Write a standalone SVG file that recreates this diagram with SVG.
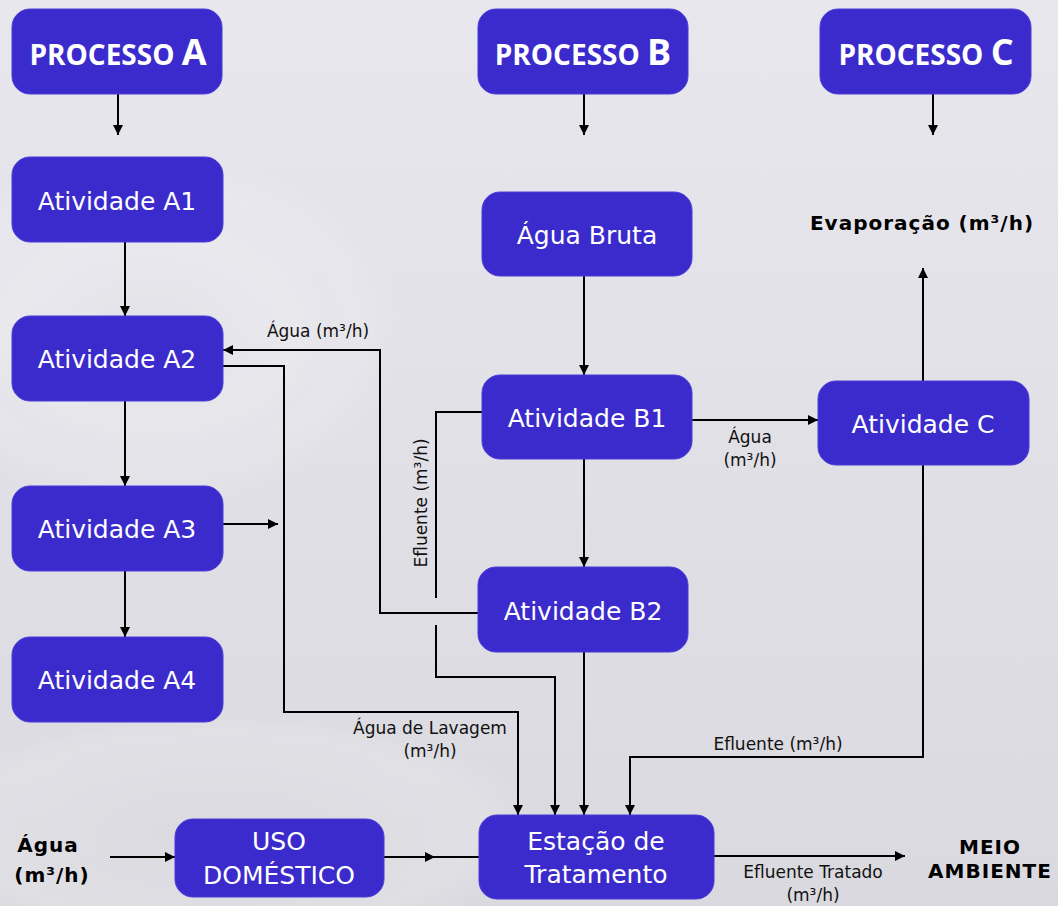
<svg xmlns="http://www.w3.org/2000/svg" width="1058" height="906" viewBox="0 0 1058 906">
<defs>
<linearGradient id="bg" x1="0" y1="0" x2="0" y2="1">
<stop offset="0" stop-color="#E8E7EE"/>
<stop offset="1" stop-color="#DAD9DF"/>
</linearGradient>
<radialGradient id="ripple" cx="0.5" cy="0.5" r="0.5">
<stop offset="0" stop-color="#FFFFFF" stop-opacity="0"/>
<stop offset="0.8" stop-color="#FFFFFF" stop-opacity="0.25"/>
<stop offset="1" stop-color="#FFFFFF" stop-opacity="0"/>
</radialGradient>
<marker id="arr" viewBox="0 0 10 10" refX="10" refY="5" markerWidth="10" markerHeight="10" markerUnits="userSpaceOnUse" orient="auto">
<path d="M0,0 L10,5 L0,10 Z" fill="#000"/>
</marker>
<marker id="mid" viewBox="0 0 10 10" refX="5" refY="5" markerWidth="10" markerHeight="10" markerUnits="userSpaceOnUse" orient="auto">
<path d="M0,0 L10,5 L0,10 Z" fill="#000"/>
</marker>
</defs>
<style>
.box{fill:#3B2BCC;stroke:#4A3BD6;stroke-width:1}
.t{font-family:"DejaVu Sans",Verdana,sans-serif;font-size:25px;fill:#FFFFFF;text-anchor:middle}
.h{font-family:"Open Sans","DejaVu Sans",sans-serif;font-weight:bold;font-size:28px;fill:#FFFFFF;text-anchor:middle}
.hb{font-size:36px}
.c{fill:none;stroke:#000;stroke-width:2}
.l{font-family:"DejaVu Sans",Verdana,sans-serif;font-size:17px;fill:#111;text-anchor:middle}
.b{font-family:"DejaVu Sans",Verdana,sans-serif;font-weight:bold;font-size:20px;letter-spacing:1px;fill:#000;text-anchor:middle}
</style>
<rect x="0" y="0" width="1058" height="906" fill="url(#bg)"/>
<g opacity="0.6">
<ellipse cx="150" cy="330" rx="260" ry="180" fill="url(#ripple)"/>
<ellipse cx="150" cy="330" rx="180" ry="120" fill="url(#ripple)"/>
<ellipse cx="220" cy="830" rx="320" ry="120" fill="url(#ripple)"/>
</g>

<g id="connectors">
<line class="c" x1="118" y1="94" x2="118" y2="135" marker-end="url(#arr)"/>
<line class="c" x1="584" y1="94" x2="584" y2="135" marker-end="url(#arr)"/>
<line class="c" x1="933" y1="94" x2="933" y2="135" marker-end="url(#arr)"/>
<line class="c" x1="125" y1="242" x2="125" y2="316" marker-end="url(#arr)"/>
<line class="c" x1="125" y1="401" x2="125" y2="486" marker-end="url(#arr)"/>
<line class="c" x1="125" y1="571" x2="125" y2="637" marker-end="url(#arr)"/>
<line class="c" x1="584" y1="276" x2="584" y2="375" marker-end="url(#arr)"/>
<line class="c" x1="584" y1="459" x2="584" y2="567" marker-end="url(#arr)"/>
<line class="c" x1="692" y1="420" x2="818" y2="420" marker-end="url(#arr)"/>
<line class="c" x1="923" y1="381" x2="923" y2="268" marker-end="url(#arr)"/>
<polyline class="c" points="923,465 923,757 630,757 630,815" marker-end="url(#arr)"/>
<line class="c" x1="584" y1="652" x2="584" y2="815" marker-end="url(#arr)"/>
<polyline class="c" points="478,613 380,613 380,350 223,350" marker-end="url(#arr)"/>
<polyline class="c" points="482,412 436,412 436,598"/>
<polyline class="c" points="436,625 436,677 555,677 555,815" marker-end="url(#arr)"/>
<polyline class="c" points="223,366 284,366 284,712 518,712 518,815" marker-end="url(#arr)"/>
<line class="c" x1="223" y1="524" x2="278" y2="524" marker-end="url(#arr)"/>
<line class="c" x1="110" y1="857" x2="175" y2="857" marker-end="url(#arr)"/>
<polyline class="c" points="384,857 430,857 479,857" marker-mid="url(#mid)"/>
<line class="c" x1="714" y1="856" x2="905" y2="856" marker-end="url(#arr)"/>
<text class="l" x="318" y="337">Água (m³/h)</text>
<text class="l" x="750" y="443">Água</text>
<text class="l" x="750" y="466">(m³/h)</text>
<text class="l" x="778" y="750">Efluente (m³/h)</text>
<text class="l" x="430" y="734">Água de Lavagem</text>
<text class="l" x="430" y="757">(m³/h)</text>
<text class="l" x="813" y="878">Efluente Tratado</text>
<text class="l" x="813" y="901">(m³/h)</text>
<text class="l" transform="translate(427,503) rotate(-90)">Efluente (m³/h)</text>
</g>

<g id="procA"><rect class="box" x="12" y="9" width="210" height="85" rx="18"/><text class="h" x="118" y="65">PROCESSO <tspan class="hb">A</tspan></text></g>
<g id="procB"><rect class="box" x="478" y="9" width="210" height="85" rx="18"/><text class="h" x="583" y="65">PROCESSO <tspan class="hb">B</tspan></text></g>
<g id="procC"><rect class="box" x="820" y="9" width="211" height="85" rx="18"/><text class="h" x="926" y="65">PROCESSO <tspan class="hb">C</tspan></text></g>
<g id="a1"><rect class="box" x="12" y="157" width="211" height="85" rx="18"/><text class="t" x="117" y="210">Atividade A1</text></g>
<g id="a2"><rect class="box" x="12" y="316" width="211" height="85" rx="18"/><text class="t" x="117" y="368">Atividade A2</text></g>
<g id="a3"><rect class="box" x="12" y="486" width="211" height="85" rx="18"/><text class="t" x="117" y="538">Atividade A3</text></g>
<g id="a4"><rect class="box" x="12" y="637" width="211" height="85" rx="18"/><text class="t" x="117" y="689">Atividade A4</text></g>
<g id="bruta"><rect class="box" x="482" y="192" width="210" height="84" rx="18"/><text class="t" x="587" y="244">Água Bruta</text></g>
<g id="b1"><rect class="box" x="482" y="375" width="210" height="84" rx="18"/><text class="t" x="587" y="427">Atividade B1</text></g>
<g id="b2"><rect class="box" x="478" y="567" width="210" height="85" rx="18"/><text class="t" x="583" y="620">Atividade B2</text></g>
<g id="atc"><rect class="box" x="818" y="381" width="211" height="84" rx="18"/><text class="t" x="923" y="433">Atividade C</text></g>
<g id="eta"><rect class="box" x="479" y="815" width="235" height="84" rx="18"/><text class="t" x="596" y="850">Estação de</text><text class="t" x="596" y="883">Tratamento</text></g>
<g id="uso"><rect class="box" x="175" y="819" width="209" height="78" rx="18"/><text class="t" x="279" y="850">USO</text><text class="t" x="279" y="884">DOMÉSTICO</text></g>
<g id="agua"><text class="b" x="48" y="852">Água</text><text class="b" x="52" y="882">(m³/h)</text></g>
<g id="evap"><text class="b" x="922" y="230">Evaporação (m³/h)</text></g>
<g id="meio"><text class="b" x="990" y="854">MEIO</text><text class="b" x="990" y="878">AMBIENTE</text></g>
</svg>
